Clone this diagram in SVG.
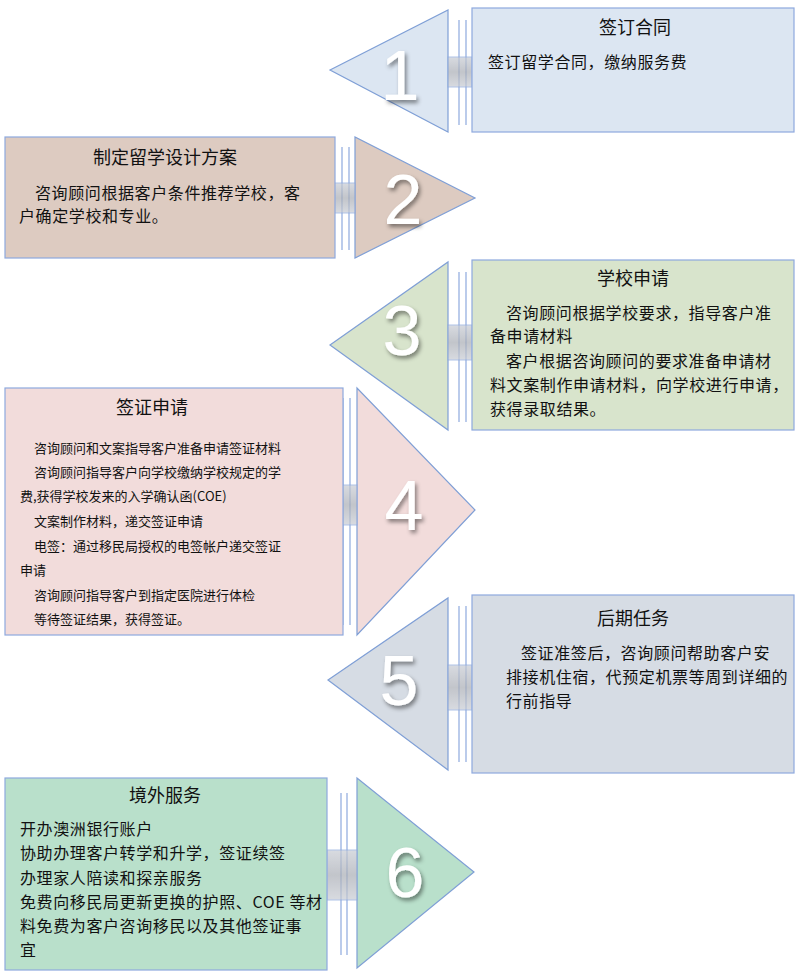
<svg xmlns="http://www.w3.org/2000/svg" width="799" height="979" viewBox="0 0 799 979">
<defs>
<linearGradient id="g" x1="0" y1="0" x2="0" y2="1"><stop offset="0" stop-color="#c8ccd4"/><stop offset="0.5" stop-color="#a9adb5"/><stop offset="1" stop-color="#c8ccd4"/></linearGradient>
<filter id="sh" x="-20%" y="-20%" width="150%" height="150%"><feDropShadow dx="2" dy="3" stdDeviation="2" flood-color="#000" flood-opacity="0.45"/></filter>
</defs>
<style>
.b{stroke:#8ea9de;stroke-width:1.2}
.t{stroke:#7f9fd6;stroke-width:1.2}
.l{stroke:#8ea9de;stroke-width:1.2;fill:none}
.c{fill:url(#g);stroke:#8ea9de;stroke-width:1;opacity:.7}
.n{font-family:"Liberation Sans",sans-serif;font-size:70px;fill:#fff;text-anchor:middle;filter:url(#sh)}
.h{font-family:"Noto Sans CJK SC",sans-serif;font-size:18px;fill:#111;text-anchor:middle}
.x{font-family:"Noto Sans CJK SC",sans-serif;font-size:16px;letter-spacing:0.6px;fill:#111}
.s{font-family:"Noto Sans CJK SC",sans-serif;font-size:13px;fill:#111}
</style>
<rect width="799" height="979" fill="#fff"/>
<g id="step1">
<polygon class="t" points="330,70 448,10 448,132" fill="#dce6f2"/>
<line class="l" x1="459" y1="20" x2="459" y2="125"/><line class="l" x1="466" y1="20" x2="466" y2="125"/>
<rect class="c" x="448" y="57" width="24" height="30"/>
<rect class="b" x="472" y="8" width="322" height="124" fill="#dce6f2"/>
<text class="n" x="400" y="100">1</text>
<text class="h" x="635" y="34">签订合同</text>
<text class="x" x="488" y="68">签订留学合同，缴纳服务费</text>
</g>
<g id="step2">
<polygon class="t" points="355,137 355,258 475,198" fill="#ddcbc1"/>
<line class="l" x1="342" y1="147" x2="342" y2="250"/><line class="l" x1="349" y1="147" x2="349" y2="250"/>
<rect class="c" x="328" y="183" width="27" height="30"/>
<rect class="b" x="5" y="137" width="330" height="121" fill="#ddcbc1"/>
<text class="n" x="403" y="224">2</text>
<text class="h" x="165" y="164">制定留学设计方案</text>
<text class="x" x="35" y="199">咨询顾问根据客户条件推荐学校，客</text>
<text class="x" x="19" y="222">户确定学校和专业。</text>
</g>
<g id="step3">
<polygon class="t" points="330,345 448,262 448,430" fill="#d8e4cc"/>
<line class="l" x1="459" y1="272" x2="459" y2="422"/><line class="l" x1="466" y1="272" x2="466" y2="422"/>
<rect class="c" x="448" y="325" width="24" height="35"/>
<rect class="b" x="472" y="260" width="322" height="170" fill="#d8e4cc"/>
<text class="n" x="402" y="355">3</text>
<text class="h" x="633" y="285">学校申请</text>
<text class="x" x="506" y="319">咨询顾问根据学校要求，指导客户准</text>
<text class="x" x="490" y="342">备申请材料</text>
<text class="x" x="506" y="367">客户根据咨询顾问的要求准备申请材</text>
<text class="x" x="490" y="391">料文案制作申请材料，向学校进行申请，</text>
<text class="x" x="490" y="415">获得录取结果。</text>
</g>
<g id="step4">
<polygon class="t" points="357,388 357,635 475,510" fill="#f2dcdb"/>
<line class="l" x1="343" y1="398" x2="343" y2="625"/><line class="l" x1="350" y1="398" x2="350" y2="625"/>
<rect class="c" x="330" y="485" width="27" height="40"/>
<rect class="b" x="5" y="388" width="338" height="247" fill="#f2dcdb"/>
<text class="n" x="404" y="530">4</text>
<text class="h" x="152" y="414">签证申请</text>
<text class="s" x="34" y="453">咨询顾问和文案指导客户准备申请签证材料</text>
<text class="s" x="34" y="477">咨询顾问指导客户向学校缴纳学校规定的学</text>
<text class="s" x="20" y="501">费,获得学校发来的入学确认函(COE)</text>
<text class="s" x="34" y="526">文案制作材料，递交签证申请</text>
<text class="s" x="34" y="551">电签：通过移民局授权的电签帐户递交签证</text>
<text class="s" x="20" y="575">申请</text>
<text class="s" x="34" y="600">咨询顾问指导客户到指定医院进行体检</text>
<text class="s" x="34" y="624">等待签证结果，获得签证。</text>
</g>
<g id="step5">
<polygon class="t" points="328,680 448,598 448,770" fill="#d6dce4"/>
<line class="l" x1="459" y1="606" x2="459" y2="762"/><line class="l" x1="466" y1="606" x2="466" y2="762"/>
<rect class="c" x="448" y="665" width="24" height="45"/>
<rect class="b" x="472" y="595" width="322" height="178" fill="#d6dce4"/>
<text class="n" x="399" y="705">5</text>
<text class="h" x="633" y="625">后期任务</text>
<text class="x" x="521" y="659">签证准签后，咨询顾问帮助客户安</text>
<text class="x" x="506" y="683">排接机住宿，代预定机票等周到详细的</text>
<text class="x" x="506" y="707">行前指导</text>
</g>
<g id="step6">
<polygon class="t" points="357,778 357,968 474,872" fill="#b9e0cb"/>
<line class="l" x1="341" y1="793" x2="341" y2="955"/><line class="l" x1="347" y1="793" x2="347" y2="955"/>
<rect class="c" x="327" y="850" width="30" height="50"/>
<rect class="b" x="5" y="778" width="322" height="192" fill="#b9e0cb"/>
<text class="n" x="405" y="897">6</text>
<text class="h" x="165" y="802">境外服务</text>
<text class="x" x="20" y="835">开办澳洲银行账户</text>
<text class="x" x="20" y="859">协助办理客户转学和升学，签证续签</text>
<text class="x" x="20" y="884">办理家人陪读和探亲服务</text>
<text class="x" x="20" y="908">免费向移民局更新更换的护照、COE 等材</text>
<text class="x" x="20" y="932">料免费为客户咨询移民以及其他签证事</text>
<text class="x" x="20" y="956">宜</text>
</g>
<g id="connectors"/>
</svg>
